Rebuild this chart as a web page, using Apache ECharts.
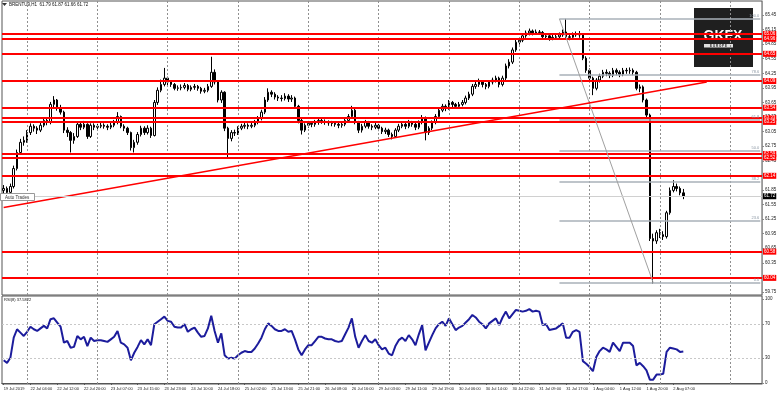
<!DOCTYPE html>
<html><head><meta charset="utf-8">
<script src="https://cdn.jsdelivr.net/npm/echarts@6/dist/echarts.min.js"></script>
<style>html,body{margin:0;padding:0;background:#fff}#c{width:780px;height:395px}</style>
</head><body><div id="c"></div><script>
// ---------- data ----------
const tickLabels = ["19 Jul 2019","22 Jul 04:00","22 Jul 12:00","22 Jul 20:00","23 Jul 07:00","23 Jul 15:00","23 Jul 23:00","24 Jul 10:00","24 Jul 18:00","25 Jul 02:00","25 Jul 13:00","25 Jul 21:00","26 Jul 08:00","26 Jul 16:00","29 Jul 03:00","29 Jul 11:00","29 Jul 19:00","30 Jul 06:00","30 Jul 14:00","30 Jul 22:00","31 Jul 09:00","31 Jul 17:00","1 Aug 04:00","1 Aug 12:00","1 Aug 20:00","2 Aug 07:00"];
const priceTicks = [59.75,60.05,60.35,60.65,60.95,61.25,61.55,61.85,62.15,62.45,62.75,63.05,63.35,63.65,63.95,64.25,64.55,64.85,65.15,65.45];
const rsiTicks = [0,30,70,100];
// [open, close, low, high]
const candles = [
[61.84,61.88,61.78,61.95],[61.88,61.80,61.74,61.92],[61.80,61.92,61.77,61.98],[61.92,62.29,61.88,62.35],[62.29,62.62,62.25,62.68],
[62.62,62.83,62.58,62.90],[62.83,62.87,62.76,62.95],[62.87,63.03,62.82,63.08],[63.03,63.16,62.98,63.22],[63.16,63.12,63.05,63.20],
[63.12,63.08,63.00,63.16],[63.08,63.18,63.04,63.24],[63.18,63.28,63.14,63.33],[63.28,63.24,63.18,63.35],[63.24,63.61,63.20,63.66],
[63.61,63.70,63.55,63.78],[63.70,63.53,63.48,63.72],[63.53,63.45,63.40,63.60],[63.45,63.08,63.02,63.48],[63.08,63.03,62.94,63.14],
[63.03,62.87,62.62,63.06],[62.87,62.95,62.80,63.02],[62.95,63.20,62.92,63.26],[63.20,63.14,63.08,63.24],[63.14,63.20,63.10,63.27],
[63.20,62.95,62.90,63.22],[62.95,63.18,62.92,63.22],[63.18,63.14,63.08,63.22],[63.14,63.16,63.09,63.21],[63.16,63.18,63.12,63.23],
[63.18,63.16,63.11,63.22],[63.16,63.14,63.08,63.20],[63.14,63.18,63.10,63.23],[63.18,63.24,63.14,63.29],[63.24,63.36,63.20,63.45],
[63.36,63.16,63.12,63.38],[63.16,63.12,63.06,63.20],[63.12,63.03,62.98,63.15],[63.03,62.72,62.66,63.05],[62.72,62.83,62.62,62.88],
[62.83,62.99,62.78,63.04],[62.99,63.12,62.95,63.17],[63.12,63.03,62.98,63.16],[63.03,63.12,62.99,63.18],[63.12,62.97,62.92,63.15],
[62.97,63.65,62.95,63.70],[63.65,63.90,63.60,63.96],[63.90,64.02,63.86,64.12],[64.02,64.15,63.98,64.36],[64.15,64.07,64.00,64.18],
[64.07,64.02,63.97,64.10],[64.02,63.94,63.90,64.05],[63.94,63.95,63.89,64.00],[63.95,63.96,63.90,64.02],[63.96,64.00,63.92,64.05],
[64.00,63.92,63.88,64.03],[63.92,63.96,63.88,64.00],[63.96,63.98,63.91,64.03],[63.98,63.94,63.89,64.01],[63.94,63.88,63.83,63.97],
[63.88,63.90,63.84,63.95],[63.90,63.98,63.86,64.03],[63.98,64.27,63.95,64.59],[64.27,64.07,64.02,64.33],[64.07,63.70,63.65,64.10],
[63.70,63.86,63.64,63.90],[63.86,63.12,63.06,63.88],[63.12,62.91,62.49,63.15],[62.91,63.03,62.85,63.08],[63.03,63.02,62.96,63.09],
[63.02,63.12,62.98,63.16],[63.12,63.16,63.08,63.21],[63.16,63.18,63.11,63.23],[63.18,63.16,63.10,63.22],[63.16,63.18,63.12,63.24],
[63.18,63.24,63.14,63.29],[63.24,63.32,63.20,63.37],[63.32,63.45,63.28,63.50],[63.45,63.70,63.41,63.76],[63.70,63.86,63.66,63.94],
[63.86,63.82,63.76,63.90],[63.82,63.76,63.71,63.86],[63.76,63.74,63.68,63.80],[63.74,63.73,63.67,63.80],[63.73,63.78,63.69,63.84],
[63.78,63.72,63.66,63.82],[63.72,63.74,63.66,63.80],[63.74,63.57,63.52,63.77],[63.57,63.28,63.22,63.60],[63.28,63.08,62.99,63.31],
[63.08,63.18,63.04,63.22],[63.18,63.22,63.13,63.27],[63.22,63.20,63.14,63.26],[63.20,63.24,63.15,63.29],[63.24,63.28,63.19,63.32],
[63.28,63.26,63.21,63.31],[63.26,63.24,63.19,63.30],[63.24,63.23,63.17,63.28],[63.23,63.22,63.16,63.27],[63.22,63.20,63.15,63.26],
[63.20,63.18,63.12,63.24],[63.18,63.20,63.13,63.25],[63.20,63.28,63.16,63.32],[63.28,63.36,63.24,63.41],[63.36,63.49,63.32,63.58],
[63.49,63.24,63.20,63.52],[63.24,63.08,63.02,63.27],[63.08,63.16,63.03,63.21],[63.16,63.24,63.12,63.29],[63.24,63.16,63.11,63.27],
[63.16,63.14,63.08,63.20],[63.14,63.18,63.10,63.23],[63.18,63.12,63.06,63.21],[63.12,63.05,63.00,63.15],[63.05,63.08,63.00,63.13],
[63.08,62.99,62.94,63.11],[62.99,62.95,62.89,63.03],[62.95,63.08,62.92,63.12],[63.08,63.16,63.04,63.21],[63.16,63.20,63.12,63.25],
[63.20,63.16,63.10,63.23],[63.16,63.24,63.12,63.29],[63.24,63.20,63.15,63.27],[63.20,63.14,63.08,63.23],[63.14,63.24,63.10,63.28],
[63.24,63.34,63.20,63.39],[63.34,63.03,62.87,63.36],[63.03,63.12,62.98,63.16],[63.12,63.24,63.08,63.28],[63.24,63.36,63.20,63.41],
[63.36,63.49,63.32,63.54],[63.49,63.57,63.45,63.62],[63.57,63.53,63.47,63.61],[63.53,63.65,63.50,63.70],[63.65,63.61,63.55,63.68],
[63.61,63.57,63.52,63.64],[63.57,63.61,63.53,63.66],[63.61,63.65,63.57,63.70],[63.65,63.74,63.61,63.79],[63.74,63.82,63.70,63.87],
[63.82,63.98,63.78,64.03],[63.98,64.02,63.93,64.08],[64.02,64.07,63.97,64.14],[64.07,64.02,63.96,64.10],[64.02,63.98,63.92,64.05],
[63.98,64.07,63.94,64.11],[64.07,64.11,64.02,64.16],[64.11,64.15,64.06,64.20],[64.15,64.02,63.96,64.18],[64.02,64.15,63.98,64.20],
[64.15,64.40,64.11,64.45],[64.40,64.48,64.35,64.54],[64.48,64.73,64.44,64.78],[64.73,64.89,64.69,64.94],[64.89,64.93,64.84,64.99],
[64.93,65.02,64.89,65.07],[65.02,65.08,64.98,65.13],[65.08,65.12,65.03,65.17],[65.12,65.08,65.03,65.15],[65.08,65.10,65.04,65.15],
[65.10,65.09,65.04,65.14],[65.09,65.00,64.95,65.12],[65.00,65.02,64.96,65.07],[65.02,64.97,64.92,65.06],[64.97,64.99,64.93,65.04],
[64.99,65.00,64.94,65.05],[65.00,65.04,64.96,65.09],[65.04,65.10,65.00,65.15],[65.10,65.00,64.95,65.37],[65.00,64.99,64.93,65.05],
[64.99,65.04,64.95,65.09],[65.04,65.06,65.00,65.11],[65.06,65.04,64.98,65.12],[65.04,64.56,64.52,65.07],[64.56,64.31,64.26,64.60],
[64.31,64.15,64.10,64.35],[64.15,63.94,63.80,64.18],[63.94,64.11,63.90,64.15],[64.11,64.19,64.06,64.24],[64.19,64.27,64.15,64.32],
[64.27,64.25,64.19,64.33],[64.25,64.21,64.15,64.29],[64.21,64.31,64.17,64.36],[64.31,64.27,64.21,64.35],[64.27,64.23,64.17,64.31],
[64.23,64.31,64.19,64.36],[64.31,64.30,64.24,64.36],[64.30,64.31,64.24,64.37],[64.31,64.27,64.21,64.35],[64.27,63.94,63.90,64.30],
[63.94,63.97,63.86,64.02],[63.97,63.70,63.65,64.00],[63.70,63.39,63.34,63.73],[63.39,60.85,60.80,63.42],[60.85,60.80,59.92,60.95],
[60.80,60.97,60.74,61.02],[60.97,60.93,60.86,61.05],[60.93,60.89,60.82,61.00],[60.89,61.38,60.85,61.42],[61.38,61.84,61.34,61.90],
[61.84,61.92,61.80,62.05],[61.92,61.88,61.82,61.98],[61.88,61.79,61.74,61.92],[61.79,61.72,61.66,61.87]
];
const rsiValues = [
27,24,30,54,64,60,56,61,67,64, 62,65,68,65,76,77,72,67,48,50,
42,43,56,52,55,44,54,50,51,51, 50,49,52,55,62,48,46,42,27,36,
43,51,46,52,45,70,73,76,79,74, 73,67,66,66,70,61,64,66,60,55,
56,65,80,62,48,59,33,29,30,29, 33,36,38,37,37,41,47,54,64,71,
68,64,62,62,64,61,62,52,40,33, 40,45,45,50,55,55,53,52,52,50,
49,50,58,66,77,55,42,50,57,50, 48,52,45,40,42,35,33,44,51,54,
50,57,52,45,58,69,39,48,57,65, 70,73,68,77,70,63,66,68,72,76,
81,78,73,70,65,71,74,77,69,78, 85,77,82,87,86,85,86,88,85,86,
85,69,70,63,64,65,68,71,54,54, 61,63,61,26,23,19,14,31,38,42,
40,37,48,43,38,48,48,48,44,21, 24,20,15,4,4,10,10,11,37,42,
41,40,37,37.58
];
const resistanceLevels = [65.06,64.96,64.65,64.09,63.54,63.33,63.25,62.59,62.52,62.14,60.58,60.04];
const fibPrices = [59.94,61.22,62.01,62.66,63.30,64.21,65.37];
const fibLabels = ["0.0","23.6","38.2","50.0","61.8","78.6","100.0"];
const fibStartBar = 166, fibEndBar = 194;
const trendStart = [0, 61.49], trendEnd = [210, 64.07];
const bidPrice = 61.72;
const rsiLevels = [70, 30];
const symbolTitle = "BRENTU9,H1  61.79 61.87 61.66 61.72";
const rsiTitle = "RSI(8) 37.5822";

// ---------- layout ----------
const SLOTS = 227;
const gridCols = [6.66,27.7,48.75,69.8,90.85,111.9,132.95,154,175.05,196.1,217.15];
const categories = Array.from({length: SLOTS}, (_, i) => String(i));
const tickShow = (i) => i % 8 === 0 && i / 8 < tickLabels.length;
const FONT = 'Liberation Sans';

const vLines = gridCols.map(v => ({xAxis: v, lineStyle: {color: '#8f8f8f', type: [2, 2], width: 1}, label: {show: false}}));

const mainMarks = [];
resistanceLevels.forEach(v => mainMarks.push({
  yAxis: v, lineStyle: {color: '#ff0000', width: 2, type: 'solid'},
  label: {show: true, position: 'end', distance: 1, formatter: v.toFixed(2), color: '#fff', backgroundColor: '#ff0000', padding: [1, 1, 0, 1], fontSize: 4.5, fontFamily: FONT}
}));
fibPrices.forEach((v, k) => mainMarks.push([
  {coord: [fibStartBar, v], lineStyle: {color: '#a9b0b8', width: 1.5, type: 'solid'},
   label: {show: true, position: 'insideEndTop', distance: 1, formatter: fibLabels[k], color: '#8a96a3', fontSize: 4, fontFamily: FONT}},
  {coord: [SLOTS - 1, v]}
]));
mainMarks.push([
  {coord: [fibStartBar, fibPrices[fibPrices.length - 1]], lineStyle: {color: '#a0a0a0', width: 1, type: 'solid'}, label: {show: false}},
  {coord: [fibEndBar, fibPrices[0]]}
]);
mainMarks.push([
  {coord: trendStart, lineStyle: {color: '#ff0000', width: 1.5, type: 'solid'}, label: {show: false}},
  {coord: trendEnd}
]);
mainMarks.push({
  yAxis: bidPrice, lineStyle: {color: '#d0d0d0', width: 1, type: 'solid'},
  label: {show: true, position: 'end', distance: 1, formatter: bidPrice.toFixed(2), color: '#fff', backgroundColor: '#000', padding: [1, 1, 0, 1], fontSize: 4.5, fontFamily: FONT}
});

const chart = echarts.init(document.getElementById('c'), null, {renderer: 'canvas'});
chart.setOption({
  animation: false,
  backgroundColor: '#ffffff',
  textStyle: {fontFamily: FONT},
  grid: [
    {left: 2, width: 760, top: 1, height: 294, show: true, borderColor: '#555', borderWidth: 1, backgroundColor: 'transparent'},
    {left: 2, width: 760, top: 296, height: 88, show: true, borderColor: '#555', borderWidth: 1, backgroundColor: 'transparent'}
  ],
  xAxis: [
    {type: 'category', gridIndex: 0, data: categories, boundaryGap: true,
     axisLine: {show: false}, axisTick: {show: false}, axisLabel: {show: false}, splitLine: {show: false}},
    {type: 'category', gridIndex: 1, data: categories, boundaryGap: true,
     axisLine: {show: true, lineStyle: {color: '#555'}},
     axisTick: {show: true, interval: tickShow, alignWithLabel: true, length: 2, lineStyle: {color: '#555'}},
     axisLabel: {show: true, interval: tickShow, formatter: (v, i) => tickLabels[i / 8] || '', align: 'left',
                 fontSize: 4, color: '#222', margin: 3, fontFamily: FONT},
     splitLine: {show: false}}
  ],
  yAxis: [
    {type: 'value', gridIndex: 0, position: 'right', min: 59.688, max: 65.737, scale: true,
     axisLine: {show: true, lineStyle: {color: '#999'}},
     axisTick: {show: true, customValues: priceTicks, length: 2, lineStyle: {color: '#888'}},
     axisLabel: {show: true, customValues: priceTicks, formatter: v => v.toFixed(2), fontSize: 4.5, color: '#222', margin: 3, fontFamily: FONT},
     splitLine: {show: false}},
    {type: 'value', gridIndex: 1, position: 'right', min: -1.2, max: 103.6,
     axisLine: {show: true, lineStyle: {color: '#999'}},
     axisTick: {show: true, customValues: rsiTicks, length: 2, lineStyle: {color: '#888'}},
     axisLabel: {show: true, customValues: rsiTicks, formatter: v => String(v), fontSize: 4.5, color: '#222', margin: 3, fontFamily: FONT},
     splitLine: {show: false}}
  ],
  series: [
    {type: 'line', xAxisIndex: 0, yAxisIndex: 0, data: [], z: 1, silent: true,
     markLine: {silent: true, symbol: ['none', 'none'], animation: false, data: vLines}},
    {type: 'candlestick', xAxisIndex: 0, yAxisIndex: 0, data: candles, barWidth: 2, z: 3,
     itemStyle: {color: '#ffffff', color0: '#000000', borderColor: '#000000', borderColor0: '#000000', borderWidth: 1},
     markLine: {silent: true, symbol: ['none', 'none'], animation: false, data: mainMarks}},
    {type: 'line', xAxisIndex: 1, yAxisIndex: 1, data: rsiValues, showSymbol: false, z: 3,
     lineStyle: {color: '#1c1c9c', width: 2}, itemStyle: {color: '#1c1c9c'},
     markLine: {silent: true, symbol: ['none', 'none'], animation: false,
       data: vLines.concat(rsiLevels.map(v => ({yAxis: v, lineStyle: {color: '#c8c8c8', type: [2, 2], width: 1}, label: {show: false}})))}}
  ],
  graphic: [
    {type: 'polygon', shape: {points: [[2, 3], [7, 3], [4.5, 6]]}, style: {fill: '#333'}},
    {type: 'text', left: 9, top: 2, style: {text: symbolTitle, fontSize: 4.5, fill: '#111', fontFamily: FONT}},
    {type: 'text', left: 4, top: 298, style: {text: rsiTitle, fontSize: 4, fill: '#111', fontFamily: FONT}},
    {type: 'rect', shape: {x: 0.5, y: 193.5, width: 34, height: 7}, style: {fill: '#fff', stroke: '#999', lineWidth: 1}, z: 50},
    {type: 'text', left: 5, top: 195, style: {text: 'Auto Trades', fontSize: 4.5, fill: '#333', fontFamily: FONT}, z: 51},
    {type: 'group', z: 60, children: [
      {type: 'rect', shape: {x: 694, y: 8, width: 59, height: 59}, style: {fill: '#1f1f1f'}},
      {type: 'text', x: 723, y: 36.5, style: {text: 'GKFX', fontSize: 14, fontWeight: 'bold', fill: '#ffffff', align: 'center', verticalAlign: 'middle', fontFamily: FONT}},
      {type: 'rect', shape: {x: 704, y: 44, width: 29, height: 3.5}, style: {fill: '#e0e0e0'}},
      {type: 'text', x: 718.5, y: 45.9, style: {text: 'E U R O P E', fontSize: 3, fontWeight: 'bold', fill: '#222', align: 'center', verticalAlign: 'middle', fontFamily: FONT}}
    ]}
  ]
});
</script></body></html>
